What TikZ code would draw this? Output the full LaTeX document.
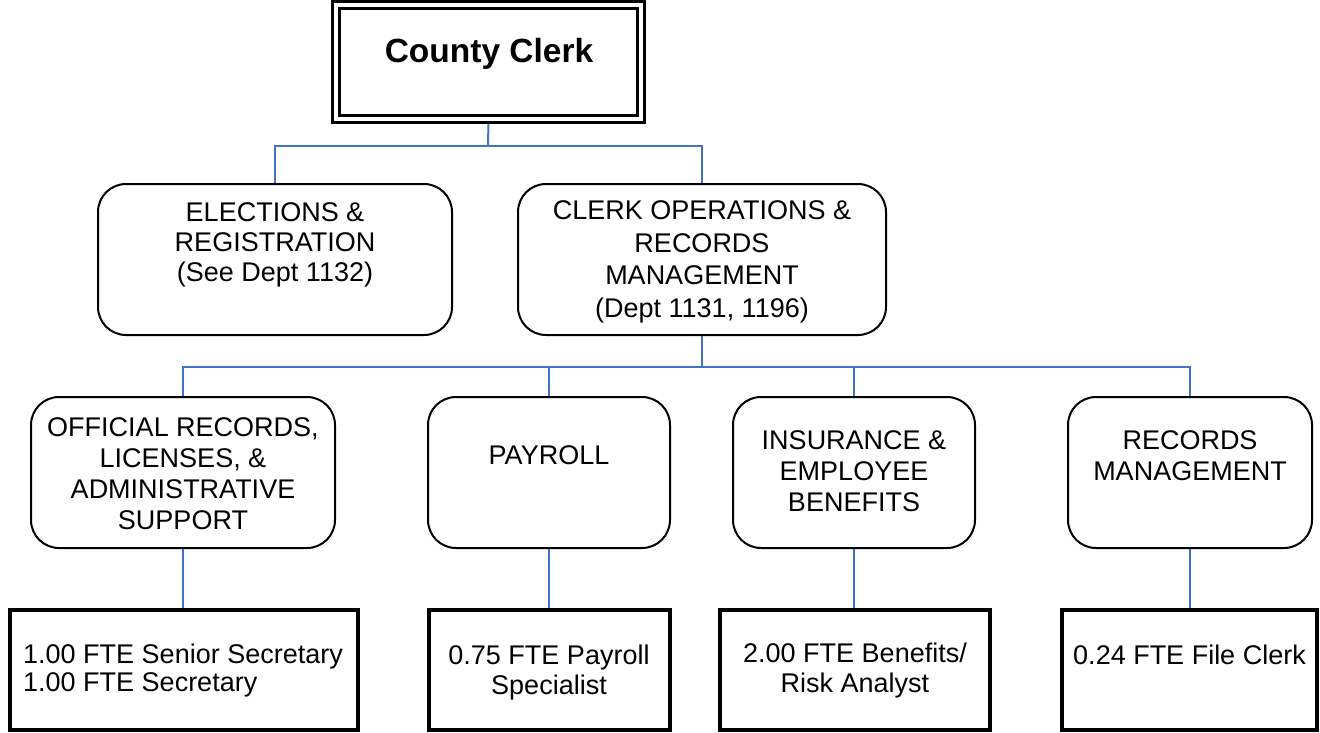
\documentclass[tikz,border=0pt]{standalone}
\usepackage{fontspec}
\setmainfont{Liberation Sans}
\usetikzlibrary{backgrounds}
\definecolor{linkblue}{HTML}{4472C4}
\begin{document}
\begin{tikzpicture}[x=1pt,y=-1pt,
  rbox/.style={draw, line width=2pt, rounded corners=28pt, fill=white, inner sep=0pt, minimum height=151pt},
  sbox/.style={draw, line width=4pt, fill=white, inner sep=0pt, minimum height=120pt},
  txt/.style={align=center, inner sep=0pt, font=\fontsize{27}{31}\selectfont},
  conn/.style={draw=linkblue, line width=2pt}]
\useasboundingbox (0,0) rectangle (1320,733);

% top
\node[draw, line width=3pt, double, double distance=4pt, fill=white, inner sep=0pt,
      minimum width=305pt, minimum height=114pt] (clerk) at (488.5,62.5) {};
\node[anchor=base, inner sep=0pt, font=\fontsize{33.5}{40}\selectfont\bfseries] (clerktxt) at (489,63) {County Clerk};

% second level
\node[rbox, minimum width=354pt] (elec) at (275,259.5) {};
\node[rbox, minimum width=368pt] (ops) at (702,259.5) {};
\node[txt, font=\fontsize{27}{30}\selectfont] (electxt) at (275,245) {ELECTIONS \&\\REGISTRATION\\(See Dept 1132)};
\node[txt, font=\fontsize{27}{32.5}\selectfont] (opstxt) at (702,262) {CLERK OPERATIONS \&\\RECORDS\\MANAGEMENT\\(Dept 1131, 1196)};

% third level
\node[rbox, minimum width=304pt] (off) at (183,472.5) {};
\node[rbox, minimum width=242pt] (pay) at (549,472.5) {};
\node[rbox, minimum width=242pt] (ins) at (854,472.5) {};
\node[rbox, minimum width=244pt] (rec) at (1190,472.5) {};
\node[txt] (offtxt) at (183,473.5) {OFFICIAL RECORDS,\\LICENSES, \&\\ADMINISTRATIVE\\SUPPORT};
\node[txt] (paytxt) at (549,455) {PAYROLL};
\node[txt] (instxt) at (854,471.5) {INSURANCE \&\\EMPLOYEE\\BENEFITS};
\node[txt] (rectxt) at (1190,456) {RECORDS\\MANAGEMENT};

% fourth level
\node[sbox, minimum width=348pt] (offb) at (184,670) {};
\node[sbox, minimum width=241pt] (payb) at (549.5,670) {};
\node[sbox, minimum width=270pt] (insb) at (855,670) {};
\node[sbox, minimum width=255pt] (recb) at (1189.5,670) {};
\node[txt, align=left, anchor=west, font=\fontsize{27}{28}\selectfont] (offbtxt) at (23,671) {1.00 FTE Senior Secretary\\1.00 FTE Secretary};
\node[txt, font=\fontsize{27}{30}\selectfont] (paybtxt) at (549,672.5) {0.75 FTE Payroll\\Specialist};
\node[txt, font=\fontsize{27}{30}\selectfont] (insbtxt) at (855,671) {2.00 FTE Benefits/\\Risk Analyst};
\node[txt] (recbtxt) at (1189.5,655) {0.24 FTE File Clerk};

\coordinate (bus1) at (488,146);
\coordinate (bus2) at (701,367);

\begin{scope}[on background layer]
\draw[conn] (clerk.south) -- (bus1);
\draw[conn] (elec.north) |- (bus1) -| (ops.north);
\draw[conn] (ops.south) -- (ops.south |- bus2);
\draw[conn] (off.north) |- (bus2) -| (rec.north);
\draw[conn] (pay.north) -- (pay.north |- bus2);
\draw[conn] (ins.north) -- (ins.north |- bus2);
\draw[conn] (off.south) -- (off.south |- offb.north);
\draw[conn] (pay.south) -- (pay.south |- payb.north);
\draw[conn] (ins.south) -- (ins.south |- insb.north);
\draw[conn] (rec.south) -- (rec.south |- recb.north);
\end{scope}
\end{tikzpicture}
\end{document}
